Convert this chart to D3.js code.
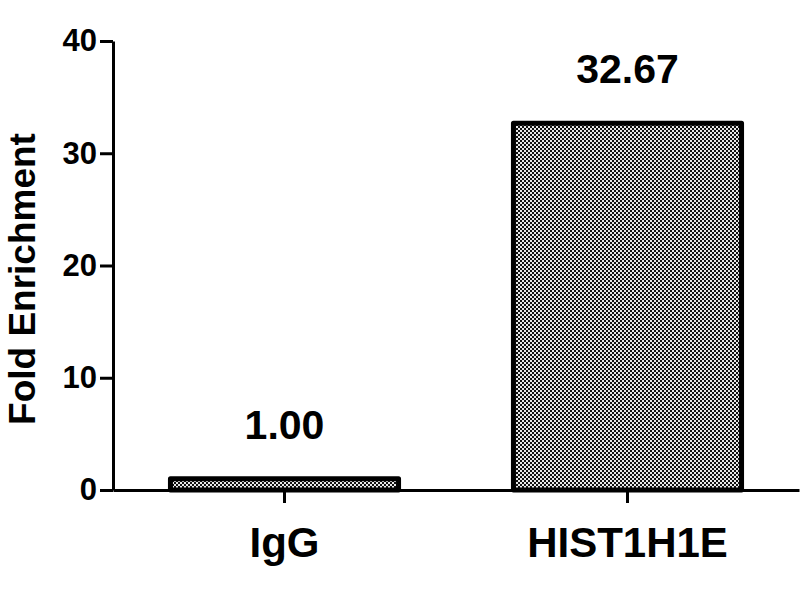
<!DOCTYPE html>
<html>
<head>
<meta charset="utf-8">
<script src="https://cdn.jsdelivr.net/npm/d3@7"></script>
<style>
  body { margin: 0; background: #fff; }
  text { font-family: "Liberation Sans", Arial, sans-serif; font-weight: bold; }
</style>
</head>
<body>
<div id="chart"></div>
<script>
// data
var categories = ["IgG", "HIST1H1E"];
var values = [1.00, 32.67];
var valueLabels = ["1.00", "32.67"];
var yTicks = [0, 10, 20, 30, 40];

var svgWidth = 800;
var svgHeight = 600;

var svg = d3.select("#chart")
    .append("svg")
    .attr("width", svgWidth)
    .attr("height", svgHeight);

// checker pattern for the bars
var defs = svg.append("defs");
var pat = defs.append("pattern")
    .attr("id", "checker")
    .attr("patternUnits", "userSpaceOnUse")
    .attr("width", 4)
    .attr("height", 4);
pat.append("rect").attr("width", 4).attr("height", 4).attr("fill", "#e8e8e8");
pat.append("rect").attr("x", 0).attr("y", 0).attr("width", 2).attr("height", 2).attr("fill", "#111");
pat.append("rect").attr("x", 2).attr("y", 2).attr("width", 2).attr("height", 2).attr("fill", "#111");

// scales
var xScale = d3.scaleBand()
    .domain(categories)
    .range([113, 799])
    .padding(0);

var yScale = d3.scaleLinear()
    .domain([0, 40])
    .range([490, 41]);

var barWidth = xScale.bandwidth() * 0.665;

// bars
svg.selectAll("rect.bar")
    .data(values)
    .enter()
    .append("rect")
    .attr("class", "bar")
    .attr("x", (d, i) => xScale(categories[i]) + xScale.bandwidth() / 2 - barWidth / 2)
    .attr("y", d => yScale(d))
    .attr("width", barWidth)
    .attr("height", d => yScale(0) - yScale(d))
    .attr("fill", "url(#checker)")
    .attr("stroke", "#000")
    .attr("stroke-width", 5)
    .attr("stroke-linejoin", "round");

// value labels
svg.selectAll("text.val")
    .data(values)
    .enter()
    .append("text")
    .attr("class", "val")
    .attr("x", (d, i) => xScale(categories[i]) + xScale.bandwidth() / 2)
    .attr("y", d => yScale(d) - 40)
    .attr("text-anchor", "middle")
    .attr("font-size", 41)
    .attr("fill", "#000")
    .text((d, i) => valueLabels[i]);

// y axis
var leftAxis = d3.axisLeft(yScale)
    .tickValues(yTicks)
    .tickSize(13)
    .tickPadding(3)
    .tickSizeOuter(0);

var yAxisG = svg.append("g")
    .attr("transform", "translate(113,0)")
    .call(leftAxis);
yAxisG.select(".domain").attr("stroke-width", 3);
yAxisG.selectAll(".tick line").attr("stroke-width", 3);
yAxisG.selectAll(".tick text")
    .attr("font-size", 31)
    .attr("font-family", "Liberation Sans, Arial, sans-serif")
    .attr("font-weight", "bold")
    .attr("fill", "#000");

// x axis
var bottomAxis = d3.axisBottom(xScale)
    .tickSize(13)
    .tickPadding(20)
    .tickSizeOuter(0);

var xAxisG = svg.append("g")
    .attr("transform", `translate(0, ${yScale(0)})`)
    .call(bottomAxis);
xAxisG.select(".domain").attr("stroke-width", 3);
xAxisG.selectAll(".tick line").attr("stroke-width", 3);
xAxisG.selectAll(".tick text")
    .attr("font-size", 42)
    .attr("font-family", "Liberation Sans, Arial, sans-serif")
    .attr("font-weight", "bold")
    .attr("fill", "#000")
    .attr("dy", "0.71em")
    .attr("y", 37);

// y axis title
svg.append("text")
    .attr("transform", "translate(35, 279) rotate(-90)")
    .attr("text-anchor", "middle")
    .attr("font-size", 37)
    .attr("fill", "#000")
    .text("Fold Enrichment");
</script>
</body>
</html>
